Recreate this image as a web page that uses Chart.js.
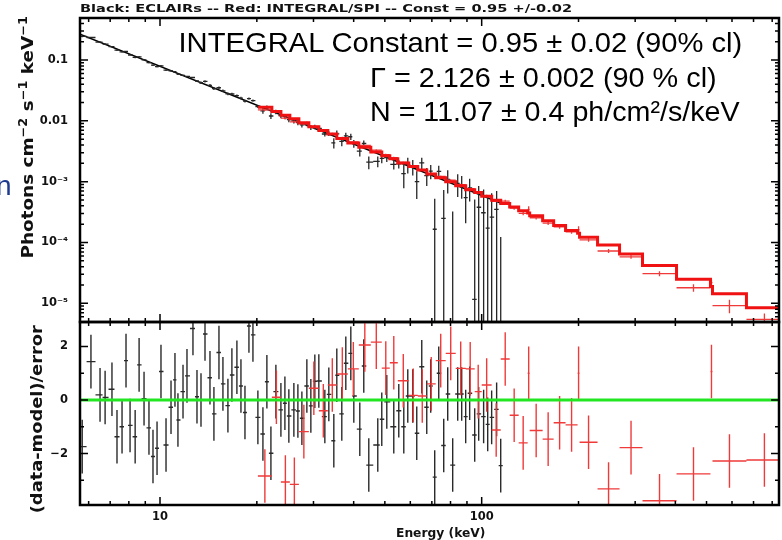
<!DOCTYPE html>
<html>
<head>
<meta charset="utf-8">
<title>ECLAIRs + INTEGRAL/SPI joint fit</title>
<script src="https://cdn.jsdelivr.net/npm/chart.js@4.4.1/dist/chart.umd.min.js"></script>
<style>
  body { margin: 0; background: #fff; }
  #stage { position: relative; width: 782px; height: 540px; overflow: hidden; background: #fff; }
  #stage canvas { position: absolute; left: 0; }
  .lbl { position: absolute; white-space: nowrap; line-height: 1; transform-origin: 50% 50%; }
  .pg { font-family: 'DejaVu Sans', sans-serif; font-weight: bold; color: #111; }
  .note { font-family: 'Liberation Sans', Arial, sans-serif; color: #000; font-size: 28.5px; }
  sup { font-size: 0.7em; vertical-align: 0.5em; line-height: 0; }
</style>
</head>
<body>
<div id="stage">
  <canvas id="specChart" width="782" height="330" style="top:0"></canvas>
  <canvas id="residChart" width="782" height="240" style="top:300px"></canvas>
  <div class="lbl pg" id="plotTitle" style="font-size:10.5px">Black: ECLAIRs -- Red: INTEGRAL/SPI -- Const = 0.95 +/-0.02</div>
  <div class="lbl note" id="noteConst">INTEGRAL Constant = 0.95 ± 0.02 (90% cl)</div>
  <div class="lbl note" id="noteGamma">Γ = 2.126 ± 0.002 (90 % cl)</div>
  <div class="lbl note" id="noteNorm">N = 11.07 ± 0.4 ph/cm²/s/keV</div>
  <div class="lbl pg" id="yTitleSpec" style="font-size:16.5px">Photons cm<sup>−2</sup> s<sup>−1</sup> keV<sup>−1</sup></div>
  <div class="lbl pg" id="yTitleResid" style="font-size:16.5px">(data-model)/error</div>
  <div class="lbl pg" id="xTitle" style="font-size:12px">Energy (keV)</div>
  <div class="lbl" id="slideN" style="font-family:'Liberation Sans',sans-serif;font-size:28px;color:#1d3a8f">n</div>
</div>
<script>
// ----- DATA -----
// ECLAIRs bins (keV), unfolded flux, 1-sigma error, residual
const blackEnergy = [5.73, 6.10, 6.51, 6.75, 7.09, 7.35, 7.62, 7.84, 8.07, 8.37,
    8.61, 8.92, 9.24, 9.51, 9.79, 10.07, 10.44, 10.82, 11.13, 11.37,
    11.79, 12.13, 12.66, 13.03, 13.41, 13.80, 14.30, 14.71, 15.25, 15.69,
    16.26, 16.73, 17.34, 17.85, 18.37, 18.90, 19.45, 20.15, 20.89, 21.49,
    22.12, 22.92, 23.76, 24.45, 25.15, 26.07, 26.83, 27.61, 28.61, 29.44,
    30.29, 31.17, 32.54, 33.48, 34.70, 35.45, 36.74, 37.81, 39.19, 40.04,
    41.79, 43.00, 44.57, 47.53, 48.91, 50.70, 53.30, 55.24, 57.26, 58.92,
    61.06, 62.83, 65.12, 67.49, 69.44, 71.45, 73.54, 76.21, 78.42, 81.26,
    84.23, 86.67, 89.18, 91.76, 95.13, 97.88, 101.4, 104.4, 107.4, 111.3,
    114.6];
const blackFlux = [0.2444, 0.2347, 0.1974, 0.1824, 0.1656, 0.1454, 0.1363, 0.1380, 0.1210, 0.1106,
    0.1128, 0.1008, 0.0903, 0.0822, 0.0781, 0.0802, 0.0684, 0.0663, 0.0642, 0.0587,
    0.0561, 0.0538, 0.0516, 0.0452, 0.0423, 0.0447, 0.0384, 0.0339, 0.0350, 0.0312,
    0.0278, 0.0276, 0.0260, 0.0237, 0.0212, 0.0232, 0.0215, 0.0172, 0.0146, 0.0164,
    0.0120, 0.0140, 0.0122, 0.0117, 0.0105, 0.00996, 0.00934, 0.00857, 0.00887, 0.00781,
    0.00797, 0.00751, 0.00608, 0.00617, 0.00434, 0.00611, 0.00458, 0.00564, 0.00547, 0.00424,
    0.00317, 0.00424, 0.00210, 0.00215, 0.00242, 0.00248, 0.00192, 0.00196, 0.00136, 0.00191,
    0.00177, 0.00100, 0.00203, 0.00126, 0.00149, 0.000165, 0.00148, 0.000249, 0.00109, -0.0000862,
    0.000940, 0.000884, 0.000546, 0.000792, 0.0000116, 0.000379, 0.000308, 0.000172, 0.000261, 0.000349,
    -0.000100];
const blackErr = [0.00774, 0.00675, 0.00589, 0.00546, 0.00491, 0.00455, 0.00422, 0.00397, 0.00374, 0.00346,
    0.00326, 0.00302, 0.00280, 0.00263, 0.00248, 0.00233, 0.00216, 0.00200, 0.00188, 0.00180,
    0.00167, 0.00157, 0.00143, 0.00135, 0.00212, 0.00199, 0.00185, 0.00174, 0.00161, 0.00152,
    0.00141, 0.00132, 0.00123, 0.00116, 0.00109, 0.00102, 0.00096, 0.00089, 0.00149, 0.00140,
    0.00131, 0.00122, 0.00113, 0.00106, 0.00100, 0.00093, 0.00087, 0.00082, 0.00076, 0.00072,
    0.00068, 0.00064, 0.00058, 0.00055, 0.00084, 0.00081, 0.00075, 0.00070, 0.00065, 0.00062,
    0.00057, 0.00053, 0.00050, 0.00043, 0.00041, 0.00038, 0.00034, 0.00031, 0.00058, 0.00055,
    0.00051, 0.00048, 0.00044, 0.00041, 0.00039, 0.00036, 0.00034, 0.00048, 0.00045, 0.00041,
    0.00038, 0.00036, 0.00034, 0.00032, 0.000495, 0.000466, 0.000432, 0.000407, 0.000383, 0.000355,
    0.000223];
const blackResid = [-1.74, 1.43, 0.19, 0.09, 0.40, -1.37, -1.00, 1.47, -0.95, -1.37,
    1.31, 0.05, -1.04, -2.11, -1.80, 1.06, -1.68, -0.27, 0.75, -0.75,
    0.31, 0.90, 2.67, 0.12, 0.00, 2.46, 0.83, -0.52, 1.77, 0.60,
    -0.21, 0.93, 1.22, 0.52, -0.47, 2.76, 2.43, -0.65, -1.27, 0.68,
    -1.99, 0.31, -0.37, -0.12, -0.60, -0.37, -0.41, -0.68, 0.52, -0.22,
    0.70, 0.71, -0.62, 0.21, -1.52, 0.92, -0.52, 1.37, 1.74, 0.15,
    -1.09, 1.27, -2.43, -1.68, -0.72, -0.07, -1.00, -0.40, -1.00, 0.15,
    0.15, -1.24, 1.24, -0.27, 0.52, -2.88, 1.00, -1.70, 0.22, -2.43,
    0.22, 0.22, -0.62, 0.25, -1.31, -0.52, -0.62, -0.91, -0.65, -0.35,
    -2.45];
// ECLAIRs power-law model (end points)
const blackModelEnergy = [5.64, 116];
const blackModelFlux = [0.266, 0.000433];

// INTEGRAL/SPI bin edges (keV), model per bin, unfolded flux, error, residual
const redEdges = [20.15, 22.27, 23.76, 25.33, 27.02, 29.02, 31.17, 33.24, 35.45, 38.36,
    41.50, 45.22, 48.91, 51.80, 54.85, 59.34, 63.28, 67.49, 71.97, 77.31,
    83.04, 89.18, 95.13, 100.0, 107.4, 114.6, 122.2, 130.3, 139.0, 141.0,
    154.7, 167.4, 182.3, 198.7, 201.5, 229.2, 268.3, 316.2, 403.4, 514.3,
    521.8, 665.4, 860.5];
const redModel = [0.01677, 0.01419, 0.01238, 0.01080, 0.00928, 0.00797, 0.00695, 0.00606, 0.00513, 0.00434,
    0.00367, 0.00306, 0.00267, 0.00237, 0.00203, 0.00177, 0.00155, 0.00133, 0.001159, 0.000995,
    0.000855, 0.000735, 0.000661, 0.000576, 0.000495, 0.000438, 0.000382, 0.000333, 0.000304, 0.000274,
    0.000228, 0.000190, 0.000158, 0.000142, 0.000122, 0.0000904, 0.0000647, 0.0000416, 0.0000248, 0.0000189,
    0.0000144, 0.00000845];
const redFlux = [0.01510, 0.01424, 0.01105, 0.00961, 0.00890, 0.00809, 0.00685, 0.00618, 0.00530, 0.00452,
    0.00393, 0.00329, 0.00278, 0.00249, 0.00208, 0.00178, 0.00156, 0.00136, 0.001219, 0.001056,
    0.000890, 0.000765, 0.000668, 0.000587, 0.000476, 0.000478, 0.000369, 0.000301, 0.000350, 0.000255,
    0.000208, 0.000180, 0.000149, 0.000163, 0.000110, 0.0000724, 0.0000578, 0.0000307, 0.0000180, 0.0000219,
    0.00000915, 0.00000542];
const redErr = [0.000587, 0.000497, 0.000433, 0.000378, 0.000325, 0.000279, 0.000243, 0.000212, 0.000180, 0.000152,
    0.000128, 0.000107, 0.0000935, 0.0000830, 0.0000711, 0.0000620, 0.0000543, 0.0000466, 0.0000406, 0.0000348,
    0.0000299, 0.0000257, 0.0000231, 0.0000202, 0.0000173, 0.0000263, 0.0000229, 0.0000200, 0.0000456, 0.0000164,
    0.0000137, 0.0000114, 0.0000095, 0.0000213, 0.0000073, 0.0000054, 0.0000039, 0.0000029, 0.0000025, 0.0000028,
    0.0000023, 0.00000135];
const redResid = [-2.84, 0.10, -3.06, -3.15, -1.18, 0.44, -0.40, 0.56, 0.97, 1.16,
    2.05, 2.16, 1.19, 1.39, 0.72, 0.17, 0.15, 0.60, 1.47, 1.74,
    1.18, 1.16, 0.31, 0.56, -1.12, 1.53, -0.57, -1.60, 1.00, -1.14,
    -1.46, -0.85, -0.93, 1.00, -1.58, -3.32, -1.78, -3.76, -2.76, 1.06,
    -2.28, -2.24];
const residErr = 1;      // (data-model)/error bars are one sigma by definition
const residZero = 0;

// axes
const energyRange = [5.64, 840];
const specRange = [4.92e-6, 0.491];
const residRange = [-3.92, 2.91];
const xMajorTicks = [10, 100];
const xMinorTicks = [6, 7, 8, 9, 20, 30, 40, 50, 60, 70, 80, 90, 200, 300, 400, 500, 600, 700, 800];
const xTickLabels = ['10', '100'];
const specMajorTicks = [1e-5, 1e-4, 1e-3, 0.01, 0.1];
const specTickLabels = ['10⁻⁵', '10⁻⁴', '10⁻³', '0.01', '0.1'];
const specMinorTicks = [6e-6, 7e-6, 8e-6, 9e-6, 2e-5, 3e-5, 4e-5, 5e-5, 6e-5, 7e-5, 8e-5, 9e-5,
    2e-4, 3e-4, 4e-4, 5e-4, 6e-4, 7e-4, 8e-4, 9e-4, 2e-3, 3e-3, 4e-3, 5e-3, 6e-3, 7e-3, 8e-3, 9e-3,
    0.02, 0.03, 0.04, 0.05, 0.06, 0.07, 0.08, 0.09, 0.2, 0.3, 0.4];
const residMajorTicks = [-2, 0, 2];
const residTickLabels = ['−2', '0', '2'];
const residMinorTicks = [-3, -1, 1];

// ----- HELPERS -----
function binEdges(centres) {
    return centres.map((e, i) => {
        const prev = i > 0 ? centres[i - 1] : e * e / centres[i + 1];
        const next = i < centres.length - 1 ? centres[i + 1] : e * e / centres[i - 1];
        return [Math.sqrt(prev * e), Math.sqrt(e * next)];
    });
}

function crosses(energy, bins, vals, err) {
    return energy.map((e, i) => {
        const s = Array.isArray(err) ? err[i] : err;
        return { x: e, y: vals[i], xLo: bins[i][0], xHi: bins[i][1], yLo: vals[i] - s, yHi: vals[i] + s };
    });
}

const blackBins = binEdges(blackEnergy);
const redBins = redEdges.slice(0, -1).map((lo, i) => [lo, redEdges[i + 1]]);
const redEnergy = redBins.map(b => Math.sqrt(b[0] * b[1]));

const redModelLine = redBins.map((b, i) => ({ x: b[0], y: redModel[i] }))
    .concat([{ x: redEdges[redEdges.length - 1], y: redModel[redModel.length - 1] }]);
const blackModelLine = blackModelEnergy.map((e, i) => ({ x: e, y: blackModelFlux[i] }));

// data crosses: horizontal = bin width, vertical = error
const crossPlugin = {
    id: 'crosses',
    afterDatasetDraw(chart, args) {
        const ds = chart.data.datasets[args.index];
        if (!ds.crossColor) return;
        const { ctx, chartArea: a, scales: { x, y } } = chart;
        const isLog = y.type === 'logarithmic';
        const yPix = v => (isLog && v <= y.min) ? a.bottom + 5 : y.getPixelForValue(v);
        ctx.save();
        ctx.beginPath();
        ctx.rect(a.left, a.top, a.width, a.height);
        ctx.clip();
        ctx.strokeStyle = ds.crossColor;
        ctx.lineWidth = ds.crossWidth;
        ctx.beginPath();
        ds.data.forEach(p => {
            const px = x.getPixelForValue(p.x);
            ctx.moveTo(px, yPix(p.yHi));
            ctx.lineTo(px, yPix(p.yLo));
            if (!isLog || p.y > y.min) {
                const py = yPix(p.y);
                ctx.moveTo(x.getPixelForValue(p.xLo), py);
                ctx.lineTo(x.getPixelForValue(p.xHi), py);
            }
        });
        ctx.stroke();
        ctx.restore();
    }
};

// boxed frame with inward ticks on all four sides
function makeFrame(yMajor, yMinor) {
    return {
        id: 'frame',
        afterDraw(chart) {
            const { ctx, chartArea: a, scales: { x, y } } = chart;
            ctx.save();
            ctx.strokeStyle = '#000';
            ctx.lineWidth = 1.5;
            ctx.beginPath();
            const xTick = (v, len) => {
                const px = x.getPixelForValue(v);
                ctx.moveTo(px, a.top); ctx.lineTo(px, a.top + len);
                ctx.moveTo(px, a.bottom); ctx.lineTo(px, a.bottom - len);
            };
            const yTick = (v, len) => {
                const py = y.getPixelForValue(v);
                ctx.moveTo(a.left, py); ctx.lineTo(a.left + len, py);
                ctx.moveTo(a.right, py); ctx.lineTo(a.right - len, py);
            };
            xMajorTicks.forEach(v => xTick(v, 8));
            xMinorTicks.forEach(v => xTick(v, 4));
            yMajor.forEach(v => yTick(v, 8));
            yMinor.forEach(v => yTick(v, 4));
            ctx.stroke();
            ctx.lineWidth = 2.5;
            ctx.strokeRect(a.left, a.top, a.width, a.height);
            ctx.restore();
        }
    };
}

const tickFont = { family: 'DejaVu Sans', size: 11.5, weight: 'bold' };
// tick marks come from the frame plugin; the 12px gap is kept as a hidden tick length
const yBare = { grid: { display: false, drawTicks: true, tickLength: 12 }, border: { display: false } };
const xBare = { grid: { display: false, drawTicks: false }, border: { display: false } };

function fixedTicks(values) {
    return scale => { scale.ticks = values.map(v => ({ value: v })); };
}

// ----- CHARTS -----
new Chart(document.getElementById('specChart'), {
    type: 'scatter',
    data: {
        datasets: [
            { label: 'SPI model', data: redModelLine, showLine: true, stepped: true, borderColor: '#f01212',
              borderWidth: 3, pointRadius: 0, order: 0 },
            { label: 'INTEGRAL/SPI', data: crosses(redEnergy, redBins, redFlux, redErr), pointRadius: 0,
              crossColor: '#f03a3a', crossWidth: 1.3, order: 1 },
            { label: 'ECLAIRs', data: crosses(blackEnergy, blackBins, blackFlux, blackErr), pointRadius: 0,
              crossColor: '#262626', crossWidth: 1.3, order: 2 },
            { label: 'ECLAIRs model', data: blackModelLine, showLine: true, borderColor: '#000',
              borderWidth: 1.5, pointRadius: 0, order: 3 }
        ]
    },
    options: {
        responsive: false, animation: false, devicePixelRatio: 1, events: [],
        layout: { padding: { top: 18, right: 3, bottom: 8, left: 0 } },
        plugins: { legend: { display: false }, tooltip: { enabled: false } },
        scales: {
            x: { type: 'logarithmic', min: energyRange[0], max: energyRange[1], display: false },
            y: {
                ...yBare, type: 'logarithmic', min: specRange[0], max: specRange[1], bounds: 'data',
                afterBuildTicks: fixedTicks(specMajorTicks),
                afterFit: s => { s.width = 80; },
                ticks: { font: tickFont, color: '#111', padding: 0, callback: (v, i) => specTickLabels[i] }
            }
        }
    },
    plugins: [crossPlugin, makeFrame(specMajorTicks, specMinorTicks)]
});

new Chart(document.getElementById('residChart'), {
    type: 'scatter',
    data: {
        datasets: [
            { label: 'zero', data: energyRange.map(e => ({ x: e, y: residZero })), showLine: true,
              borderColor: '#22e622', borderWidth: 3, pointRadius: 0, order: 0 },
            { label: 'INTEGRAL/SPI', data: crosses(redEnergy, redBins, redResid, residErr), pointRadius: 0,
              crossColor: '#f03a3a', crossWidth: 1.4, order: 1 },
            { label: 'ECLAIRs', data: crosses(blackEnergy, blackBins, blackResid, residErr), pointRadius: 0,
              crossColor: '#2a2a2a', crossWidth: 1.4, order: 2 }
        ]
    },
    options: {
        responsive: false, animation: false, devicePixelRatio: 1, events: [],
        layout: { padding: { top: 22, right: 3, bottom: 0, left: 0 } },
        plugins: { legend: { display: false }, tooltip: { enabled: false } },
        scales: {
            x: {
                ...xBare, type: 'logarithmic', min: energyRange[0], max: energyRange[1], bounds: 'data',
                afterBuildTicks: fixedTicks(xMajorTicks),
                afterFit: s => { s.height = 35; },
                ticks: { font: tickFont, color: '#111', padding: 5, maxRotation: 0, autoSkip: false,
                         callback: (v, i) => xTickLabels[i] }
            },
            y: {
                ...yBare, type: 'linear', min: residRange[0], max: residRange[1], bounds: 'data',
                afterBuildTicks: fixedTicks(residMajorTicks),
                afterFit: s => { s.width = 80; },
                ticks: { font: tickFont, color: '#111', padding: 0, callback: (v, i) => residTickLabels[i] }
            }
        }
    },
    plugins: [crossPlugin, makeFrame(residMajorTicks, residMinorTicks)]
});

// ----- TEXT PLACEMENT -----
function place(id, cx, cy, len, angle) {
    const el = document.getElementById(id);
    const w = el.offsetWidth, h = el.offsetHeight;
    el.style.left = (cx - w / 2) + 'px';
    el.style.top = (cy - h / 2) + 'px';
    el.style.transform = `rotate(${angle || 0}deg) scaleX(${len ? len / w : 1})`;
}
place('plotTitle', 326, 8.5, 492);
place('noteConst', 460, 42.5, 564);
place('noteGamma', 543.5, 77, 347);
place('noteNorm', 555, 111.7, 370);
place('yTitleSpec', 28, 137, 243, -90);
place('yTitleResid', 37, 419, 188, -90);
place('xTitle', 440.5, 533, 89);
place('slideN', 4, 186);
</script>
</body>
</html>
